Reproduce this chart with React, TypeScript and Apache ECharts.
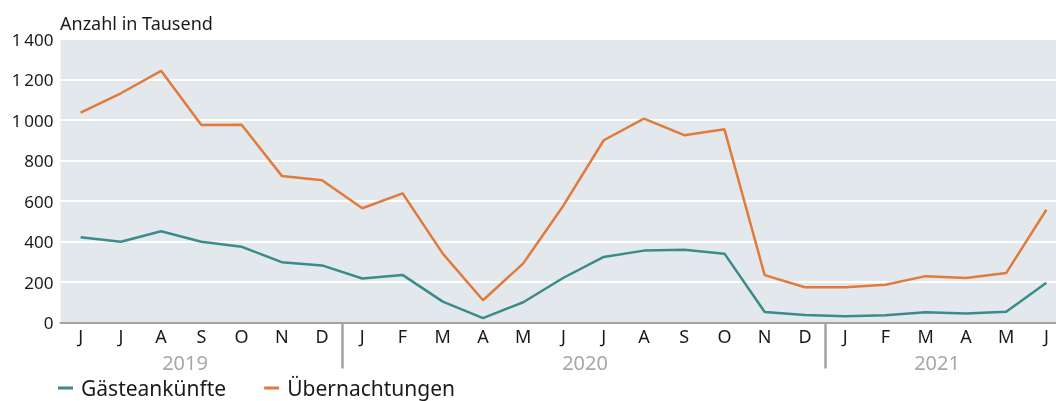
import React, { useEffect, useRef } from "react";
import * as echarts from "echarts";

const months = ["J", "J", "A", "S", "O", "N", "D", "J", "F", "M", "A", "M", "J", "J", "A", "S", "O", "N", "D", "J", "F", "M", "A", "M", "J"];
const gaesteankuenfte = [421, 399, 451, 399, 374, 298, 282, 217, 235, 103, 22, 100, 221, 324, 355, 359, 340, 52, 37, 31, 36, 51, 45, 53, 196];
const uebernachtungen = [1036, 1132, 1243, 975, 977, 724, 702, 564, 638, 340, 110, 292, 578, 900, 1007, 925, 954, 234, 174, 174, 186, 229, 220, 244, 557];
const yearLabels = ["2019", "2020", "2021"];
const yearSeparatorIndices = [7, 19];
const yTicks = { min: 0, max: 1400, interval: 200 };

const FONT = "'Noto Sans', sans-serif";

export default function App() {
  const ref = useRef<HTMLDivElement>(null);
  useEffect(() => {
    if (!ref.current) return;
    const chart = echarts.init(ref.current, undefined, { renderer: "svg" });
    const yearX = [185, 585, 937];
    chart.setOption({
      animation: false,
      textStyle: { fontFamily: FONT },
      grid: { left: 60.5, top: 39, width: 1006, height: 283.5, show: true, backgroundColor: "#e3e8ec", borderWidth: 0 },
      title: {
        text: "Anzahl in Tausend",
        left: 60,
        top: 14,
        padding: 0,
        textStyle: { fontFamily: FONT, fontSize: 18, fontWeight: "normal", color: "#1a1a1a" },
      },
      legend: {
        left: 58,
        top: 377,
        padding: 0,
        itemGap: 38,
        itemWidth: 15,
        itemHeight: 3,
        icon: "rect",
        textStyle: { fontFamily: FONT, fontSize: 21, lineHeight: 22, color: "#1a1a1a", padding: [0, 0, 0, 3] },
        data: ["Gästeankünfte", "Übernachtungen"],
      },
      xAxis: {
        type: "category",
        data: months,
        boundaryGap: true,
        axisLine: { show: true, lineStyle: { color: "#a3a3a3", width: 2 } },
        axisTick: {
          show: true,
          interval: (index: number) => yearSeparatorIndices.includes(index),
          length: 46,
          lineStyle: { color: "#a3a3a3", width: 2.5 },
        },
        axisLabel: { interval: 0, fontFamily: FONT, fontSize: 18, color: "#1a1a1a", margin: 4 },
        splitLine: { show: false },
      },
      yAxis: {
        type: "value",
        min: yTicks.min,
        max: yTicks.max,
        interval: yTicks.interval,
        axisLine: { show: false },
        axisTick: { show: false },
        splitLine: { show: true, lineStyle: { color: "#ffffff", width: 2 } },
        axisLabel: {
          fontFamily: FONT,
          fontSize: 17,
          color: "#1a1a1a",
          margin: 7,
          formatter: (v: number) => (v >= 1000 ? `${Math.floor(v / 1000)}\u2009${String(v % 1000).padStart(3, "0")}` : String(v)),
        },
      },
      graphic: yearLabels.map((y, i) => ({
        type: "text",
        x: yearX[i],
        y: 362,
        style: { text: y, fill: "#a8a8a8", font: `20px ${FONT}`, textAlign: "center", textVerticalAlign: "middle" },
      })),
      series: [
        {
          name: "Gästeankünfte",
          type: "line",
          data: gaesteankuenfte,
          symbol: "none",
          lineStyle: { color: "#3a8c88", width: 2.5 },
          itemStyle: { color: "#3a8c88" },
        },
        {
          name: "Übernachtungen",
          type: "line",
          data: uebernachtungen,
          symbol: "none",
          lineStyle: { color: "#e07b3c", width: 2.5 },
          itemStyle: { color: "#e07b3c" },
        },
      ],
    });
    return () => chart.dispose();
  }, []);
  return (
    <div style={{ position: "fixed", left: 0, top: 0, width: 1056, height: 401, overflow: "hidden" }}>
      <div ref={ref} style={{ width: 1080, height: 401 }} />
    </div>
  );
}
